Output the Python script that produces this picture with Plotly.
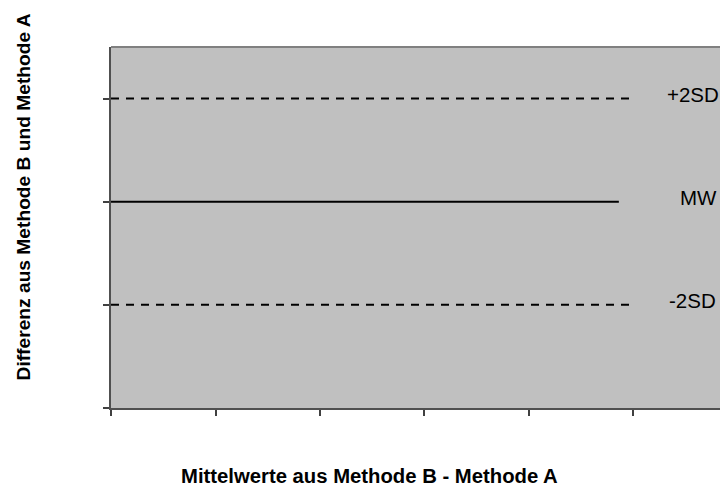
import plotly.graph_objects as go

# Data (arbitrary units; axes carry no tick labels)
line_names = ["+2SD", "MW", "-2SD"]
line_levels = [1.0, 0.0, -1.0]
line_start = [0.0, 0.0, 0.0]
line_end = [5.0, 4.86, 5.0]
line_dash = ["8px,7px", "solid", "8px,7px"]
label_x = [5.30, 5.43, 5.32]
x_ticks = [0, 1, 2, 3, 4, 5]
y_ticks = [-2, -1, 0, 1]
x_range = [0, 5.828]
y_range = [-2, 1.5]

x_title = "Mittelwerte aus Methode B - Methode A"
y_title = "Differenz aus Methode B und Methode A"

FONT = "Arial, Liberation Sans, sans-serif"

fig = go.Figure()
for name, lvl, x0, x1, dash in zip(line_names, line_levels, line_start, line_end, line_dash):
    fig.add_trace(go.Scatter(
        x=[x0, x1], y=[lvl, lvl], mode="lines", name=name,
        line=dict(color="black", width=2, dash=dash),
        hoverinfo="skip", showlegend=False,
    ))

annotations = []
for name, lvl, lx in zip(line_names, line_levels, label_x):
    annotations.append(dict(
        x=lx, y=lvl, xref="x", yref="y", text=name, showarrow=False,
        xanchor="left", yanchor="middle", yshift=4,
        font=dict(family=FONT, size=20.5, color="black"),
    ))

annotations.append(dict(
    x=0.425, y=-0.187, xref="paper", yref="paper", text=x_title, showarrow=False,
    xanchor="center", yanchor="middle",
    font=dict(family=FONT, size=20.3, color="black", weight="bold"),
))
annotations.append(dict(
    x=-0.1445, y=0.586, xref="paper", yref="paper", text=y_title, showarrow=False,
    xanchor="center", yanchor="middle", textangle=-90,
    font=dict(family=FONT, size=19.2, color="black", weight="bold"),
))

fig.update_layout(
    width=720, height=487,
    margin=dict(l=111, r=0, t=47, b=79),
    paper_bgcolor="white",
    plot_bgcolor="#C0C0C0",
    showlegend=False,
    annotations=annotations,
    xaxis=dict(
        range=x_range, tickvals=x_ticks, showticklabels=False,
        ticks="outside", ticklen=6, tickwidth=2, tickcolor="#404040",
        showline=True, linecolor="#505050", linewidth=2,
        showgrid=False, zeroline=False, fixedrange=True,
    ),
    yaxis=dict(
        range=y_range, tickvals=y_ticks, showticklabels=False,
        ticks="outside", ticklen=6, tickwidth=2, tickcolor="#404040",
        showline=True, linecolor="#505050", linewidth=2,
        showgrid=False, zeroline=False, fixedrange=True,
    ),
    shapes=[dict(
        type="line", xref="paper", yref="paper", x0=0, x1=1, y0=1, y1=1,
        line=dict(color="#808080", width=2),
    )],
)

fig.write_html(
    "out.html",
    config={"displayModeBar": False},
    post_script="document.body.style.margin='0';document.body.style.overflow='hidden';",
)
